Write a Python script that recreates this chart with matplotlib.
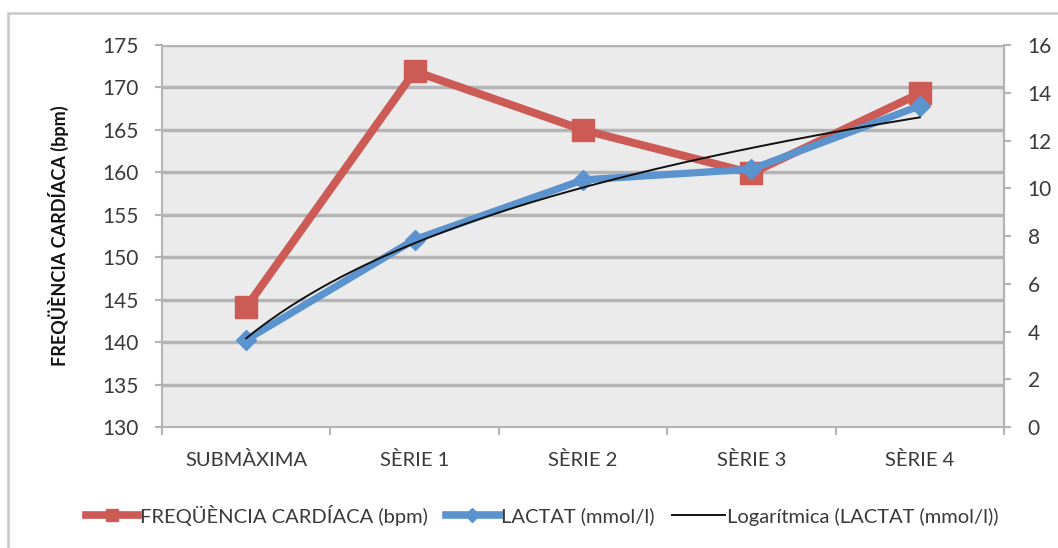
import matplotlib
matplotlib.use("Agg")
import matplotlib.pyplot as plt
from matplotlib.patches import Rectangle
from matplotlib.lines import Line2D
import numpy as np

categories = ["SUBMÀXIMA", "SÈRIE 1", "SÈRIE 2", "SÈRIE 3", "SÈRIE 4"]
heart_rate = [144.1, 171.9, 165.0, 159.9, 169.3]
lactate = [3.65, 7.85, 10.35, 10.8, 13.45]
left_ticks = [130, 135, 140, 145, 150, 155, 160, 165, 170, 175]
right_ticks = [0, 2, 4, 6, 8, 10, 12, 14, 16]

plt.rcParams['font.family'] = ['Lato', 'DejaVu Sans']

RED = "#cd5b55"
BLUE = "#5b93cf"
GRID = "#b4b4b4"
TXT = "#3a3a3a"

fig = plt.figure(figsize=(10.58, 5.48), dpi=100)
fig.patches.append(Rectangle((8/1058, -0.1), 1.2, 1 - 13/548 + 0.1, transform=fig.transFigure,
                             fill=False, edgecolor="#c8c8c8", linewidth=1.8))

ax = fig.add_axes([162/1058, 1 - 427/548, (1004 - 162)/1058, (427 - 45)/548])
ax.set_facecolor("#ebebeb")
x = np.arange(len(categories))
ax.set_xlim(-0.5, len(categories) - 0.5)
ax.set_ylim(130, 175)
ax.set_yticks(left_ticks)
for t in left_ticks[1:]:
    ax.axhline(t, color=GRID, linewidth=2.5, zorder=1)
ax.set_xticks(np.arange(-0.5, len(categories) + 0.5, 1.0))
ax.set_xticklabels([])
ax.set_xticks(x, minor=True)
ax.set_xticklabels(categories, minor=True, fontsize=14.5, color=TXT)
ax.tick_params(axis='x', which='minor', length=0, pad=17)
ax.tick_params(axis='x', which='major', length=6, width=1.5, color=GRID, direction='out')
ax.tick_params(axis='y', length=5, width=1.5, color=GRID, labelsize=15, labelcolor=TXT, pad=12)
ax.spines["top"].set_visible(False)
for s in ["left", "bottom", "right"]:
    ax.spines[s].set_color(GRID)
    ax.spines[s].set_linewidth(1.5)
ax.set_ylabel("FREQÜÈNCIA CARDÍACA (bpm)", fontsize=13, fontweight='bold', color="#111111", labelpad=24)

ax.plot(x, heart_rate, color=RED, linewidth=5.8, marker='s', markersize=16.5, zorder=3,
        solid_joinstyle='miter')

ax2 = ax.twinx()
ax2.set_ylim(0, 16)
ax2.set_yticks(right_ticks)
ax2.tick_params(axis='y', length=5, width=1.5, color=GRID, labelsize=15, labelcolor=TXT, pad=12)
for s in ["left", "bottom", "top"]:
    ax2.spines[s].set_visible(False)
ax2.spines["right"].set_color(GRID)
ax2.spines["right"].set_linewidth(1.5)
ax2.plot(x, lactate, color=BLUE, linewidth=5.2, marker='D', markersize=10, zorder=3)

# logarithmic trendline (least-squares fit of lactate vs ln(category number))
xn = x + 1
a, b = np.polyfit(np.log(xn), lactate, 1)
xs = np.linspace(1, len(categories), 200)
ax2.plot(xs - 1, a * np.log(xs) + b, color="#111111", linewidth=1.4, zorder=4)

handles = [
    Line2D([], [], color=RED, linewidth=5.5, marker='s', markersize=9),
    Line2D([], [], color=BLUE, linewidth=5.5, marker='D', markersize=7),
    Line2D([], [], color="#111111", linewidth=1.4),
]
labels = ["FREQÜÈNCIA CARDÍACA (bpm)", "LACTAT (mmol/l)", "Logarítmica (LACTAT (mmol/l))"]
fig.legend(handles, labels, loc='center', bbox_to_anchor=(542/1058, 1 - 515/548), ncol=3,
           frameon=False, fontsize=14.5, handlelength=2.6, handletextpad=0.1, columnspacing=0.9,
           labelcolor=TXT)

fig.savefig("out.png", dpi=100)
